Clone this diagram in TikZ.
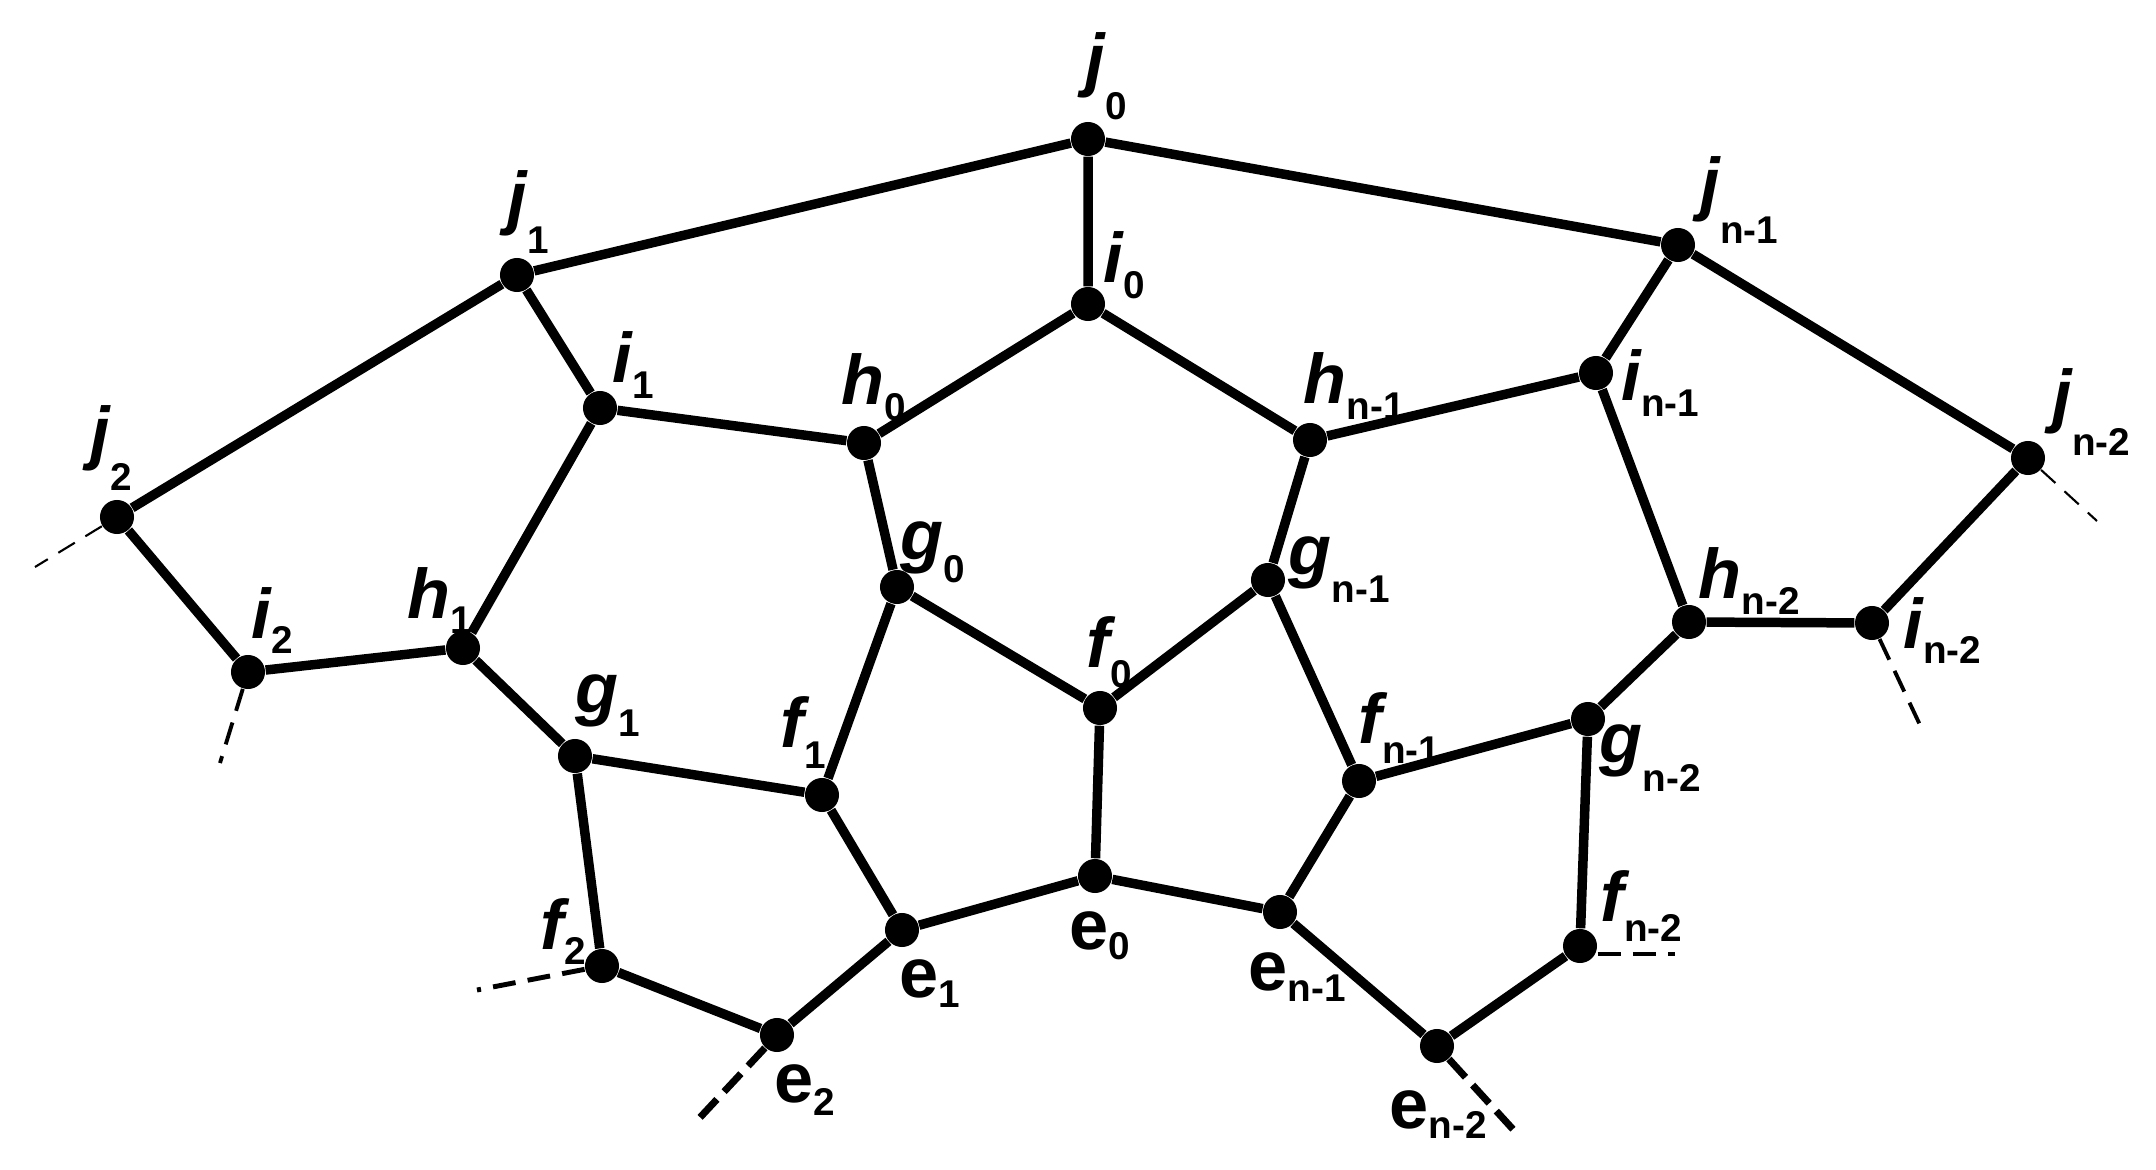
\documentclass[tikz,border=0pt]{standalone}
\usepackage{fontspec}
\setmainfont{Liberation Sans}
\newcommand\lv[3]{{\fontsize{20}{20}\selectfont\bfseries\itshape #1}\raisebox{-#3}{\fontsize{11}{11}\selectfont\bfseries #2}}
\newcommand\lu[3]{{\fontsize{20}{20}\selectfont\bfseries #1}\raisebox{-#3}{\fontsize{11}{11}\selectfont\bfseries #2}}
\tikzset{
  vtx/.style={circle,fill=black,inner sep=0pt,minimum size=0.34cm},
  edge/.style={line width=2.7pt},
  lab/.style={inner sep=0pt,anchor=base west},
  stubthin/.style={line width=0.6pt,dash pattern=on 5.5pt off 3.5pt},
  stubmid/.style={line width=1.1pt,dash pattern=on 6.5pt off 3.5pt},
  stubthick/.style={line width=2pt,dash pattern=on 7pt off 3pt},
}
\begin{document}
\begin{tikzpicture}[x=0.01cm,y=-0.01cm]
\path[use as bounding box] (0,0) rectangle (2156,1170);
% vertices
\node[vtx] (j0) at (1088,139) {};
\node[vtx] (i0) at (1088,304) {};
\node[vtx] (j1) at (517,275) {};
\node[vtx] (i1) at (600,408) {};
\node[vtx] (h0) at (864,443) {};
\node[vtx] (hn1) at (1310,440) {};
\node[vtx] (in1) at (1596,373) {};
\node[vtx] (jn1) at (1678,245) {};
\node[vtx] (j2) at (117,517) {};
\node[vtx] (i2) at (248,672) {};
\node[vtx] (h1) at (463,648) {};
\node[vtx] (g1) at (575,756) {};
\node[vtx] (g0) at (897,587) {};
\node[vtx] (f0) at (1100,708) {};
\node[vtx] (gn1) at (1268,580) {};
\node[vtx] (f1) at (822,795) {};
\node[vtx] (fn1) at (1359,781) {};
\node[vtx] (e1) at (902,930) {};
\node[vtx] (e0) at (1095,876) {};
\node[vtx] (en1) at (1280,912) {};
\node[vtx] (f2) at (602,966) {};
\node[vtx] (e2) at (777,1035) {};
\node[vtx] (en2) at (1437,1046) {};
\node[vtx] (fn2) at (1580,946) {};
\node[vtx] (gn2) at (1588,719) {};
\node[vtx] (hn2) at (1689,622) {};
\node[vtx] (in2) at (1872,623) {};
\node[vtx] (jn2) at (2028,458) {};
% edges
\draw[edge] (j0)--(i0) (j0)--(j1) (j0)--(jn1)
 (j1)--(i1) (j1)--(j2)
 (i0)--(h0) (i0)--(hn1)
 (i1)--(h0) (i1)--(h1)
 (h0)--(g0)
 (hn1)--(in1) (hn1)--(gn1)
 (in1)--(jn1) (in1)--(hn2)
 (jn1)--(jn2) (jn2)--(in2) (in2)--(hn2) (hn2)--(gn2)
 (gn2)--(fn1) (gn2)--(fn2) (fn2)--(en2) (en2)--(en1)
 (en1)--(fn1) (en1)--(e0) (fn1)--(gn1) (gn1)--(f0)
 (f0)--(g0) (f0)--(e0) (g0)--(f1) (f1)--(g1) (f1)--(e1)
 (e1)--(e0) (e1)--(e2) (e2)--(f2) (f2)--(g1) (g1)--(h1) (h1)--(i2) (i2)--(j2);
% stubs
\coordinate (sj2) at (35,567);
\coordinate (si2) at (220,763);
\coordinate (sf2) at (477,990);
\coordinate (se2) at (693,1125);
\coordinate (sen2) at (1520,1137);
\coordinate (sfn2) at (1675,954);
\coordinate (sin2) at (1920,725);
\coordinate (sjn2) at (2097,521);
\draw[stubthin] (j2)--(sj2);
\draw[stubthin] (jn2)--(sjn2);
\draw[stubmid] (i2)--(si2);
\draw[stubmid,line width=1.4pt] (f2)--(sf2);
\draw[stubmid] (in2)--(sin2);
\draw[stubmid,line width=1.3pt] (fn2.east |- sfn2)--(sfn2);
\draw[stubthick] (e2)--(se2);
\draw[stubthick] (en2)--(sen2);
% labels
\node[lab] (lj0) at (1085,84) {\lv{j}{0}{10pt}};
\node[lab] (li0) at (1103,283) {\lv{i}{0}{4.3pt}};
\node[lab] (lj1) at (507,222) {\lv{j}{1}{9pt}};
\node[lab] (li1) at (612,383) {\lv{i}{1}{4.3pt}};
\node[lab] (lh0) at (841,405) {\lv{h}{0}{4.3pt}};
\node[lab] (lhn1) at (1303,404) {\lv{h}{n-1}{4.3pt}};
\node[lab] (lin1) at (1621,401) {\lv{i}{n-1}{4.3pt}};
\node[lab] (ljn1) at (1700,208) {\lv{j}{n-1}{10pt}};
\node[lab] (lj2) at (90,457) {\lv{j}{2}{9.5pt}};
\node[lab] (li2) at (251,638) {\lv{i}{2}{4.3pt}};
\node[lab] (lh1) at (407,618) {\lv{h}{1}{4.3pt}};
\node[lab] (lg1) at (575,712) {\lv{g}{1}{7pt}};
\node[lab] (lg0) at (900,560) {\lv{g}{0}{6.5pt}};
\node[lab] (lf0) at (1086,667) {\lv{f}{0}{5.7pt}};
\node[lab] (lgn1) at (1288,574) {\lv{g}{n-1}{8pt}};
\node[lab] (lf1) at (780,748) {\lv{f}{1}{5.7pt}};
\node[lab] (lfn1) at (1358,743) {\lv{f}{n-1}{5.7pt}};
\node[lab] (lgn2) at (1599,762) {\lv{g}{n-2}{8.5pt}};
\node[lab] (lhn2) at (1698,599) {\lv{h}{n-2}{4.3pt}};
\node[lab] (lin2) at (1903,648) {\lv{i}{n-2}{4.3pt}};
\node[lab] (ljn2) at (2052,420) {\lv{j}{n-2}{10pt}};
\node[lab] (lf2) at (540,949) {\lv{f}{2}{4.3pt}};
\node[lab] (lfn2) at (1600,921) {\lv{f}{n-2}{5.7pt}};
\node[lab] (le1) at (899,997) {\lu{e}{1}{3pt}};
\node[lab] (le0) at (1069,949) {\lu{e}{0}{3pt}};
\node[lab] (len1) at (1248,990) {\lu{e}{n-1}{3.4pt}};
\node[lab] (le2) at (774,1102) {\lu{e}{2}{3.7pt}};
\node[lab] (len2) at (1389,1128) {\lu{e}{n-2}{3pt}};
\end{tikzpicture}
\end{document}
